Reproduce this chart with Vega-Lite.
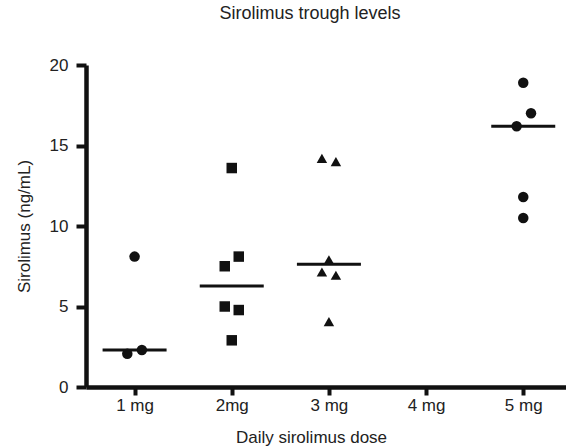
{
  "$schema": "https://vega.github.io/schema/vega-lite/v6.json",
  "autosize": "none",
  "width": 480,
  "height": 322,
  "padding": {"left": 86, "top": 65, "right": 0, "bottom": 60},
  "background": "white",
  "config": {
    "view": {"stroke": null},
    "font": "Liberation Sans",
    "axis": {"grid": false, "domainColor": "#111", "tickColor": "#111", "labelColor": "#222", "titleColor": "#222", "labelFont": "Liberation Sans", "titleFont": "Liberation Sans", "labelFontSize": 17, "titleFontSize": 17, "titleFontWeight": "normal", "domainWidth": 4.5, "tickWidth": 4}
  },
  "title": {"text": "Sirolimus trough levels", "font": "Liberation Sans", "fontSize": 18, "fontWeight": "normal", "color": "#222", "anchor": "middle", "dx": -16, "offset": 33},
  "datasets": {
    "points": [
      {"dose": "1 mg", "x": 1.0, "value": 8.1, "group": "1 mg"},
      {"dose": "1 mg", "x": 0.925, "value": 2.07, "group": "1 mg"},
      {"dose": "1 mg", "x": 1.075, "value": 2.3, "group": "1 mg"},
      {"dose": "2mg", "x": 2.0, "value": 13.6, "group": "2mg"},
      {"dose": "2mg", "x": 2.072, "value": 8.1, "group": "2mg"},
      {"dose": "2mg", "x": 1.928, "value": 7.5, "group": "2mg"},
      {"dose": "2mg", "x": 1.928, "value": 5.0, "group": "2mg"},
      {"dose": "2mg", "x": 2.072, "value": 4.78, "group": "2mg"},
      {"dose": "2mg", "x": 2.0, "value": 2.9, "group": "2mg"},
      {"dose": "3 mg", "x": 2.928, "value": 14.2, "group": "3 mg"},
      {"dose": "3 mg", "x": 3.072, "value": 14.0, "group": "3 mg"},
      {"dose": "3 mg", "x": 3.0, "value": 7.9, "group": "3 mg"},
      {"dose": "3 mg", "x": 2.928, "value": 7.14, "group": "3 mg"},
      {"dose": "3 mg", "x": 3.072, "value": 6.94, "group": "3 mg"},
      {"dose": "3 mg", "x": 3.0, "value": 4.06, "group": "3 mg"},
      {"dose": "5 mg", "x": 5.0, "value": 18.9, "group": "5 mg"},
      {"dose": "5 mg", "x": 5.08, "value": 17.0, "group": "5 mg"},
      {"dose": "5 mg", "x": 4.932, "value": 16.2, "group": "5 mg"},
      {"dose": "5 mg", "x": 5.0, "value": 11.8, "group": "5 mg"},
      {"dose": "5 mg", "x": 5.0, "value": 10.5, "group": "5 mg"}
    ],
    "medians": [
      {"x": 1, "median": 2.3},
      {"x": 2, "median": 6.27},
      {"x": 3, "median": 7.62},
      {"x": 5, "median": 16.2}
    ]
  },
  "layer": [
    {
      "data": {"name": "medians"},
      "mark": {"type": "tick", "orient": "horizontal", "size": 64, "thickness": 3, "color": "#111", "opacity": 1},
      "encoding": {
        "x": {"field": "x", "type": "quantitative", "scale": {"domain": [0.5, 5.44], "nice": false, "zero": false},
          "axis": {"values": [1, 2, 3, 4, 5], "labelExpr": "datum.value == 2 ? '2mg' : datum.value + ' mg'", "title": "Daily sirolimus dose", "tickSize": 8, "labelPadding": 2, "titleX": 225, "titleY": 55, "titleBaseline": "alphabetic", "titleAnchor": "middle"}},
        "y": {"field": "median", "type": "quantitative", "scale": {"domain": [0, 20], "nice": false},
          "axis": {"values": [0, 5, 10, 15, 20], "title": "Sirolimus (ng/mL)", "tickSize": 10, "labelPadding": 8, "titlePadding": 16}}
      }
    },
    {
      "data": {"name": "points"},
      "mark": {"type": "point", "filled": true, "opacity": 1, "color": "#111"},
      "encoding": {
        "x": {"field": "x", "type": "quantitative"},
        "y": {"field": "value", "type": "quantitative"},
        "shape": {"field": "group", "type": "nominal", "scale": {"domain": ["1 mg", "2mg", "3 mg", "5 mg"], "range": ["circle", "square", "triangle-up", "circle"]}, "legend": null},
        "size": {"value": 110}
      }
    }
  ]
}
